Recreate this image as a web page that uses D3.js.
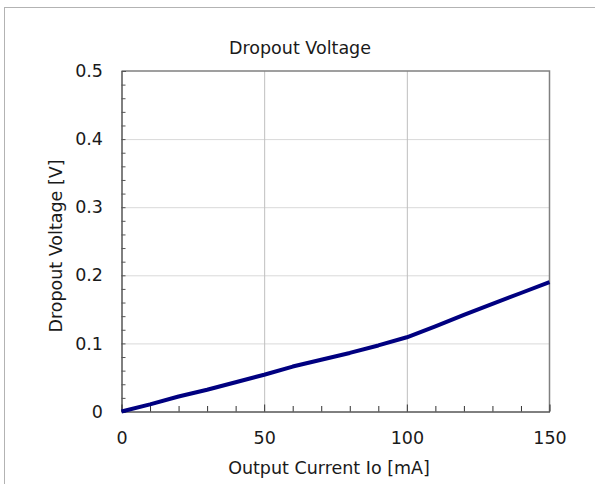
<!DOCTYPE html>
<html>
<head>
<meta charset="utf-8">
<script src="https://cdn.jsdelivr.net/npm/d3@7"></script>
<style>
  html, body { margin: 0; padding: 0; background: #fff; }
  svg { display: block; }
  text { font-family: "DejaVu Sans", Verdana, sans-serif; fill: #1a1a1a; }
</style>
</head>
<body>
<svg id="chart" width="595" height="484"></svg>
<script>
// Dropout voltage vs. output current
const currentMA = [0, 10, 20, 30, 40, 50, 60, 70, 80, 90, 100, 110, 120, 130, 140, 150];
const dropoutV  = [0, 0.0105, 0.022, 0.032, 0.043, 0.054, 0.066, 0.076, 0.086, 0.097, 0.109, 0.125, 0.142, 0.158, 0.174, 0.190];

const xTicks = [0, 50, 100, 150];
const yTicks = [0, 0.1, 0.2, 0.3, 0.4, 0.5];
const yTickLabels = ["0", "0.1", "0.2", "0.3", "0.4", "0.5"];

const chartTitle = "Dropout Voltage";
const xTitle = "Output Current Io [mA]";
const yTitle = "Dropout Voltage [V]";

const svg = d3.select("#chart");

const plot = { left: 121.5, right: 549.5, top: 71, bottom: 411.5 };

const x = d3.scaleLinear().domain([0, 150]).range([plot.left, plot.right]);
const y = d3.scaleLinear().domain([0, 0.5]).range([plot.bottom, plot.top]);

// outer frame
svg.append("rect")
  .attr("x", 4.5).attr("y", 7.5)
  .attr("width", 620).attr("height", 500)
  .attr("fill", "none").attr("stroke", "#b3b3b3").attr("stroke-width", 1);

// horizontal gridlines
svg.append("g")
  .attr("transform", `translate(${plot.left},0)`)
  .call(d3.axisRight(y).tickValues(yTicks.slice(1, -1)).tickSize(plot.right - plot.left).tickFormat(""))
  .call(g => g.select(".domain").remove())
  .call(g => g.selectAll("line").attr("stroke", "#d9d9d9"));

// vertical gridlines
svg.append("g")
  .attr("transform", `translate(0,${plot.top})`)
  .call(d3.axisBottom(x).tickValues(xTicks.slice(1, -1)).tickSize(plot.bottom - plot.top).tickFormat(""))
  .call(g => g.select(".domain").remove())
  .call(g => g.selectAll("line").attr("stroke", "#bfbfbf"));

// top and right frame of the plot area
svg.append("path")
  .attr("d", `M${plot.left},${plot.top}H${plot.right}V${plot.bottom}`)
  .attr("fill", "none").attr("stroke", "#808080").attr("stroke-width", 1.5);

// y axis: inward minor ticks every 0.02
const yMinor = d3.range(0, 0.5001, 0.02);
svg.append("g")
  .attr("transform", `translate(${plot.left},0)`)
  .call(d3.axisRight(y).tickValues(yMinor).tickSize(4).tickFormat(""))
  .call(g => g.select(".domain").attr("stroke", "#000"))
  .call(g => g.selectAll(".tick line").attr("stroke", "#555"));

// y tick labels
svg.append("g")
  .attr("transform", `translate(${plot.left},0)`)
  .call(d3.axisLeft(y).tickValues(yTicks).tickSize(0).tickPadding(18.5)
    .tickFormat((d, i) => yTickLabels[i]))
  .call(g => g.select(".domain").remove())
  .call(g => g.selectAll("text").attr("font-size", "17.5px").attr("fill", "#1a1a1a")
    .attr("font-family", '"DejaVu Sans", Verdana, sans-serif'));

// x axis: upward ticks every 10 mA
const xMinor = d3.range(0, 151, 10);
svg.append("g")
  .attr("transform", `translate(0,${plot.bottom})`)
  .call(d3.axisTop(x).tickValues(xMinor).tickSize(0).tickFormat(""))
  .call(g => g.select(".domain").attr("stroke", "#000"))
  .call(g => g.selectAll(".tick line")
    .attr("y2", d => (d % 50 === 0 ? -7 : -5.5))
    .attr("stroke", "#333"));

// x tick labels
svg.append("g")
  .attr("transform", `translate(0,${plot.bottom})`)
  .call(d3.axisBottom(x).tickValues(xTicks).tickSize(0).tickPadding(20).tickFormat(d3.format("d")))
  .call(g => g.select(".domain").remove())
  .call(g => g.selectAll("text").attr("font-size", "17.5px").attr("fill", "#1a1a1a")
    .attr("font-family", '"DejaVu Sans", Verdana, sans-serif'));

// data line
const line = d3.line()
  .x((d, i) => x(currentMA[i]))
  .y(d => y(d));

svg.append("path")
  .datum(dropoutV)
  .attr("d", line)
  .attr("fill", "none")
  .attr("stroke", "#000080")
  .attr("stroke-width", 4)
  .attr("stroke-linejoin", "round");

// titles
svg.append("text")
  .attr("x", 300).attr("y", 54)
  .attr("text-anchor", "middle")
  .attr("font-size", "17.5px")
  .text(chartTitle);

svg.append("text")
  .attr("x", 329).attr("y", 474)
  .attr("text-anchor", "middle")
  .attr("font-size", "17.5px")
  .text(xTitle);

svg.append("text")
  .attr("transform", `translate(61.5,246) rotate(-90)`)
  .attr("text-anchor", "middle")
  .attr("font-size", "17.5px")
  .text(yTitle);
</script>
</body>
</html>
